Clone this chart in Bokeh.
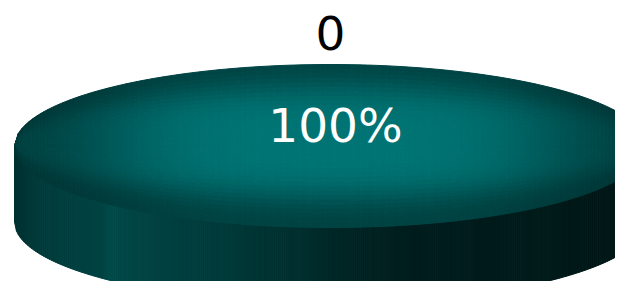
import numpy as np
from bokeh.plotting import figure
from bokeh.models import Range1d
from bokeh.embed import file_html
from bokeh.resources import INLINE
from bokeh.core.properties import value

# ---- data ----
categories = ["0"]
values = [100]

# ---- layout ----
W, H = 615, 281
p = figure(width=W, height=H, x_range=Range1d(0, W), y_range=Range1d(H, 0),
           output_backend="svg", toolbar_location=None, min_border=0,
           x_axis_location=None, y_axis_location=None)
p.grid.visible = False
p.outline_line_color = None
p.background_fill_color = "white"
p.border_fill_color = "white"

cx, cy, a, b, h = 330.0, 145.5, 316.0, 81.5, 76.0

total = float(sum(values))
fractions = [v / total for v in values]


def hexcol(g):
    g = int(max(0, min(255, round(g))))
    return "#%02x%02x%02x" % (0, g, g)


def s_of(x):
    u = np.clip((x - cx) / a, -1, 1)
    return np.sqrt(np.maximum(0.0, 1 - u * u))


# side profile (x -> teal level)
kx = np.array([14, 30, 60, 100, 110, 125, 150, 220, 300, 350, 400, 450, 550, 646], dtype=float)
kv = np.array([48, 56, 62, 66, 74, 70, 66, 58, 46, 36, 30, 28, 26, 22], dtype=float)

for frac in fractions:
    # ---- side (front wall) ----
    N = 320
    xe = np.linspace(cx - a, cx + a, N + 1)
    xs, ys, cols = [], [], []
    for i in range(N):
        x0, x1 = xe[i], xe[i + 1]
        y0 = cy + b * s_of(x0)
        y1 = cy + b * s_of(x1)
        xs.append([x0, x1, x1, x0])
        ys.append([y0, y1, y1 + h, y0 + h])
        cols.append(hexcol(np.interp((x0 + x1) / 2, kx, kv)))
    p.patches(xs, ys, fill_color=cols, line_color=cols, line_width=1)

    # ---- top face ----
    NU, NV = 170, 36
    xe = np.linspace(cx - a, cx + a, NU + 1)
    ve = np.linspace(-1, 1, NV + 1)
    xs, ys, cols = [], [], []
    for i in range(NU):
        x0, x1 = xe[i], xe[i + 1]
        s0, s1 = s_of(x0), s_of(x1)
        u = ((x0 + x1) / 2 - cx) / a
        F = 0.2 + 0.8 * np.exp(-(u / 0.75) ** 4)
        for j in range(NV):
            v0, v1 = ve[j], ve[j + 1]
            v = (v0 + v1) / 2
            G = 0.25 + 0.75 * np.exp(-((v + 0.05) / 0.72) ** 4)
            xs.append([x0, x1, x1, x0])
            ys.append([cy + b * s0 * v0, cy + b * s1 * v0, cy + b * s1 * v1, cy + b * s0 * v1])
            cols.append(hexcol(50 + 66 * F * G))
    p.patches(xs, ys, fill_color=cols, line_color=cols, line_width=1)

# ---- labels ----
p.text(x=[330], y=[32], text=categories, text_font=value("DejaVu Sans"),
       text_font_size="47px", text_color="black", text_align="center",
       text_baseline="middle")
p.text(x=[335], y=[125], text=["%d%%" % round(f * 100) for f in fractions],
       text_font=value("DejaVu Sans"), text_font_size="47px", text_color="white",
       text_align="center", text_baseline="middle")

open("out.html", "w").write(file_html(p, INLINE))
